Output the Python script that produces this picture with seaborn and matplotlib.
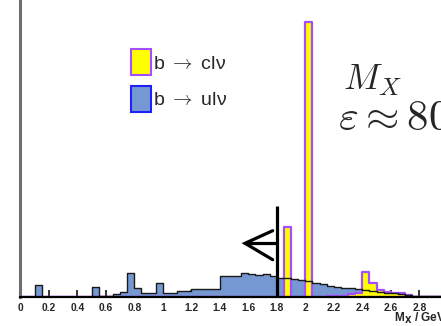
import numpy as np
import pandas as pd
import matplotlib
matplotlib.use("Agg")
import matplotlib.pyplot as plt
from matplotlib.patches import Patch
from matplotlib.font_manager import FontProperties
import seaborn as sns

# ---- data (bin width 0.05 GeV, bins starting at 0.00) ----
bin_width = 0.05
bin_lo = [round(i * bin_width, 2) for i in range(59)]  # 0.00 ... 2.90

b_to_ulv = [0, 0, 11.7, 0, 0, 0, 0, 0, 0, 0,
            9.5, 0.4, 0.6, 2.3, 5, 24, 8.3, 3.3, 3.3, 14,
            4, 4, 5.7, 5.7, 8, 8, 8, 8, 20.7, 20.7,
            20.7, 23.3, 22.3, 21.7, 22.3, 20.5, 19, 18.5, 17.5, 16.7,
            15.5, 13.3, 12.5, 11, 10, 9, 8.3, 7.5, 6.7, 5.8,
            5, 4.2, 3.3, 2.5, 1.7, 1.2, 0.8, 0.5, 0.3]

b_to_clv = [0, 0, 0, 0, 0, 0, 0, 0, 0, 0,
            0, 0, 0, 0, 0, 0, 0, 0, 0, 0,
            0, 0, 0, 0, 0, 0, 0, 0, 0, 0,
            0, 0, 0, 0, 0, 0, 0, 70, 0, 0,
            275, 0, 0, 1, 1, 1, 2.3, 4, 25, 13.3,
            6.7, 5, 3.3, 3.3, 1.7, 0, 0, 0, 0]

tick_vals = [0, 0.2, 0.4, 0.6, 0.8, 1.0, 1.2, 1.4, 1.6, 1.8, 2.0, 2.2, 2.4, 2.6, 2.8]
tick_labels = ["0", "0.2", "0.4", "0.6", "0.8", "1", "1.2", "1.4", "1.6", "1.8",
               "2", "2.2", "2.4", "2.6", "2.8"]
cut_value = 1.8

edges = [round(v, 2) for v in bin_lo] + [round(bin_lo[-1] + bin_width, 2)]
df = pd.DataFrame({
    "center": [v + bin_width / 2 for v in bin_lo],
    "ulv": b_to_ulv,
    "clv": b_to_clv,
})

# ---- style ----
sns.set_style("white")
plt.rcParams["font.family"] = ["Liberation Sans", "DejaVu Sans"]
plt.rcParams["mathtext.fontset"] = "cm"

W, H = 441, 326
fig = plt.figure(figsize=(W / 100, H / 100), dpi=100)
x0_px, base_px, top_px, right_px = 20.3, 296.7, -5.0, 447.8
ax = fig.add_axes([x0_px / W, (H - base_px) / H,
                   (right_px - x0_px) / W, (base_px - top_px) / H])

blue_fill = "#7598d3"
yellow = "#ffff00"
purple = "#a64dff"

sns.histplot(data=df, x="center", weights="ulv", bins=edges, element="step",
             fill=True, color=blue_fill, alpha=1, edgecolor="none", linewidth=0,
             ax=ax, zorder=1)
sns.histplot(data=df, x="center", weights="clv", bins=edges, element="step",
             fill=True, color=yellow, alpha=1, edgecolor=purple, linewidth=1.6,
             ax=ax, zorder=2)
sns.histplot(data=df, x="center", weights="ulv", bins=edges, element="step",
             fill=False, color="#1a1a1a", linewidth=1.0, ax=ax, zorder=3)

ax.set_xlim(0, 3.0)
ax.set_ylim(0, base_px - top_px)

# cut line with arrow
ax.plot([cut_value, cut_value], [0, 90.7], color="black", lw=2.3, zorder=5,
        solid_capstyle="butt")
tip_x = 1.577
ax.plot([tip_x, cut_value], [53.4, 53.4], color="black", lw=2.3, zorder=5)
ax.plot([1.771, tip_x, 1.771], [66.0, 53.4, 37.0], color="black", lw=2.3,
        zorder=5, solid_joinstyle="miter")

ax.set_xticks(tick_vals)
ax.set_xticklabels(tick_labels, fontweight="bold", fontsize=7.4)
ax.set_yticks([])
ax.tick_params(axis="x", direction="in", length=5, width=1.1, color="black",
               pad=4.2, bottom=True)
ax.set_xlabel("")
ax.set_ylabel("")

for s in ["top", "right"]:
    ax.spines[s].set_visible(False)
ax.spines["left"].set_color("#6e6e6e")
ax.spines["left"].set_linewidth(2.2)
ax.spines["bottom"].set_color("black")
ax.spines["bottom"].set_linewidth(1.6)
ax.spines["bottom"].set_zorder(6)

# legend
handles = [Patch(facecolor=yellow, edgecolor=purple, linewidth=1.5),
           Patch(facecolor=blue_fill, edgecolor="#2020ff", linewidth=1.5)]
fs = 14
fs_px = fs * 100 / 72
prop = FontProperties(family=["Liberation Sans", "DejaVu Sans"], size=fs,
                      math_fontfamily="cm")
fig.legend(handles, ["b $\\rightarrow$ cl\u03bd", "b $\\rightarrow$ ul\u03bd"],
           loc="upper left", bbox_to_anchor=(131 / W, 1 - 49.3 / H),
           bbox_transform=fig.transFigure, frameon=False, prop=prop,
           handlelength=20 / fs_px, handleheight=1.68,
           handletextpad=0.12, labelspacing=0.55, borderpad=0, borderaxespad=0)

# annotation text
fig.text(343 / W, 1 - 90 / H, r"$M_X$", fontsize=26, va="baseline", ha="left")
fig.text(338 / W, 1 - 130 / H, r"$\varepsilon \approx 80\%$", fontsize=31,
         va="baseline", ha="left")

# axis label (cut at the right edge, as in the reference)
fig.text(394 / W, 1 - 322.3 / H, r"M$_\mathbf{X}$ / GeV", fontsize=8.6,
         fontweight="bold", va="baseline", ha="left", math_fontfamily="dejavusans")

fig.savefig("out.png", dpi=100)
